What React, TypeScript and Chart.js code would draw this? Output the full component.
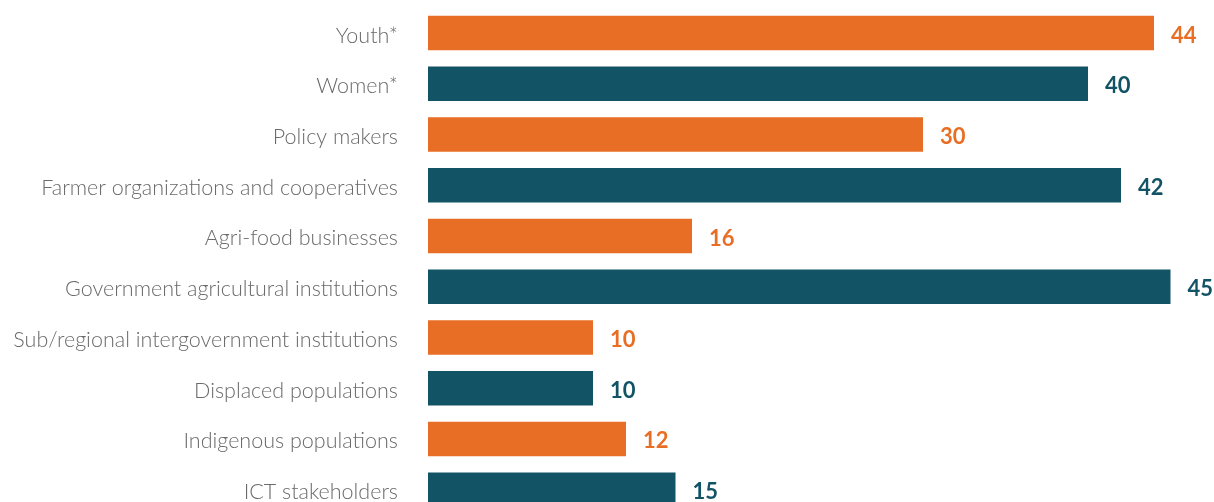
import { useRef, useEffect } from "react";
import Chart from "chart.js/auto";

const categories = [
  "Youth*",
  "Women*",
  "Policy makers",
  "Farmer organizations and cooperatives",
  "Agri-food businesses",
  "Government agricultural institutions",
  "Sub/regional intergovernment institutions",
  "Displaced populations",
  "Indigenous populations",
  "ICT stakeholders",
];
const counts = [44, 40, 30, 42, 16, 45, 10, 10, 12, 15];

const ORANGE = "#e96e25";
const TEAL = "#125466";
const barColors = categories.map((_, i) => (i % 2 === 0 ? ORANGE : TEAL));

const valueLabels = {
  id: "valueLabels",
  afterDatasetsDraw(chart: Chart) {
    const ctx = chart.ctx;
    const meta = chart.getDatasetMeta(0);
    ctx.save();
    ctx.font = "bold 22px Lato, 'Open Sans', sans-serif";
    ctx.textBaseline = "middle";
    ctx.textAlign = "left";
    meta.data.forEach((bar: any, i: number) => {
      ctx.fillStyle = barColors[i];
      ctx.fillText(String(counts[i]), bar.x + 17, bar.y + 2.5);
    });
    ctx.restore();
  },
};

const App = () => {
  const chartRef = useRef<HTMLCanvasElement | null>(null);
  const chartInstance = useRef<Chart | null>(null);

  useEffect(() => {
    if (!chartRef.current) return;
    if (chartInstance.current) chartInstance.current.destroy();

    chartInstance.current = new Chart(chartRef.current, {
      type: "bar",
      data: {
        labels: categories,
        datasets: [
          {
            data: counts,
            backgroundColor: barColors,
            borderWidth: 0,
            barPercentage: 1,
            categoryPercentage: 0.68,
          },
        ],
      },
      options: {
        indexAxis: "y",
        animation: false,
        responsive: true,
        maintainAspectRatio: false,
        layout: { padding: { top: 7.7, right: 10.5, bottom: 0, left: 0 } },
        plugins: {
          legend: { display: false },
          tooltip: { enabled: false },
        },
        scales: {
          x: {
            min: 0,
            max: 47,
            display: false,
          },
          y: {
            grid: { display: false, drawTicks: false },
            border: { display: false },
            afterFit: (axis: any) => {
              axis.width = 428;
              axis.paddingTop = 0;
              axis.paddingBottom = 0;
            },
            ticks: {
              padding: 30,
              labelOffset: 2.5,
              color: "#6a6a6a",
              font: { family: "Lato, 'Open Sans', sans-serif", size: 21.5, weight: 300 },
            },
          },
        },
      },
      plugins: [valueLabels],
    });

    return () => {
      if (chartInstance.current) {
        chartInstance.current.destroy();
        chartInstance.current = null;
      }
    };
  }, []);

  return (
    <div style={{ position: "fixed", left: 0, top: 0, width: 1214, height: 515 }}>
      <canvas ref={chartRef} />
    </div>
  );
};

export default App;
